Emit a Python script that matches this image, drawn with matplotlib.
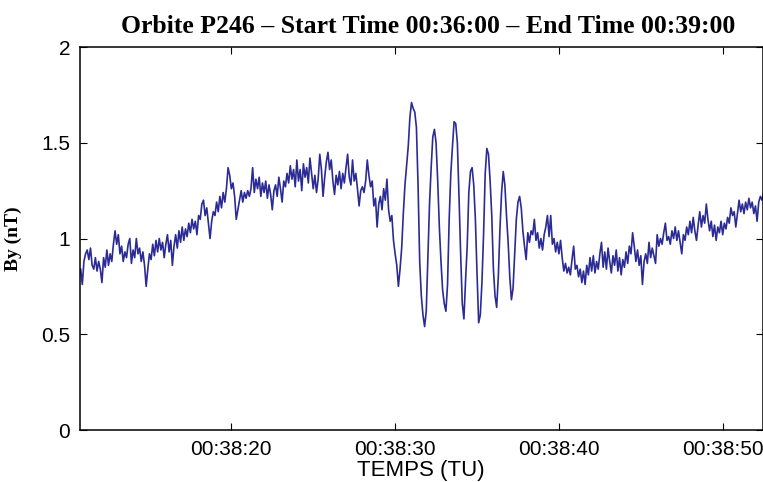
import numpy as np
import matplotlib
matplotlib.use("Agg")
import matplotlib.pyplot as plt
from matplotlib.ticker import FuncFormatter, FixedLocator

# By (nT), sampled every 0.1 s starting at 00:38:10.8
t_start = 10.8   # seconds after 00:38:00
dt = 0.1

by = [
    # 10.8 - 11.9
    0.84, 0.76, 0.88, 0.92, 0.94, 0.89, 0.95, 0.86, 0.84, 0.90, 0.83, 0.88,
    # 12.0 - 12.9
    0.84, 0.77, 0.90, 0.85, 0.94, 0.86, 0.92, 0.88, 0.97, 1.04,
    # 13.0 - 13.9
    0.97, 1.02, 0.92, 0.96, 0.88, 0.93, 0.90, 0.97, 1.00, 0.87,
    # 14.0 - 14.9
    0.94, 0.90, 1.00, 0.92, 0.95, 0.88, 0.93, 0.86, 0.75, 0.84,
    # 15.0 - 15.9
    0.92, 0.89, 0.97, 0.91, 0.99, 0.93, 1.00, 0.94, 0.98, 0.90,
    # 16.0 - 16.9
    0.97, 1.02, 0.93, 0.99, 0.86, 0.96, 1.02, 0.95, 1.04, 0.98,
    # 17.0 - 17.9
    1.06, 0.99, 1.05, 1.01, 1.08, 1.03, 1.10, 1.05, 1.09, 1.02,
    # 18.0 - 18.9
    1.12, 1.10, 1.18, 1.20, 1.12, 1.16, 1.08, 1.00, 1.09, 1.14,
    # 19.0 - 19.9
    1.12, 1.19, 1.14, 1.22, 1.16, 1.24, 1.19, 1.26, 1.37, 1.33,
    # 20.0 - 20.9
    1.26, 1.29, 1.22, 1.10, 1.15, 1.20, 1.25, 1.19, 1.24, 1.21,
    # 21.0 - 21.9
    1.25, 1.22, 1.26, 1.37, 1.24, 1.31, 1.26, 1.32, 1.22, 1.29,
    # 22.0 - 22.9
    1.24, 1.30, 1.21, 1.28, 1.23, 1.15, 1.25, 1.28, 1.22, 1.32,
    # 23.0 - 23.9
    1.26, 1.19, 1.30, 1.27, 1.34, 1.29, 1.38, 1.31, 1.36, 1.27,
    # 24.0 - 24.9
    1.41, 1.30, 1.36, 1.25, 1.39, 1.32, 1.37, 1.29, 1.42, 1.34,
    # 25.0 - 25.9
    1.26, 1.33, 1.24, 1.31, 1.44, 1.36, 1.22, 1.32, 1.40, 1.45,
    # 26.0 - 26.9
    1.36, 1.41, 1.30, 1.23, 1.33, 1.28, 1.35, 1.26, 1.34, 1.29,
    # 27.0 - 27.9
    1.37, 1.44, 1.32, 1.28, 1.41, 1.30, 1.34, 1.26, 1.17, 1.25,
    # 28.0 - 28.9
    1.27, 1.24, 1.30, 1.41, 1.33, 1.27, 1.30, 1.17, 1.21, 1.06,
    # 29.0 - 29.9
    1.18, 1.22, 1.15, 1.26, 1.20, 1.31, 1.15, 1.09, 1.12, 0.99,
    # 30.0 - 30.9
    0.92, 0.86, 0.75, 0.84, 0.95, 1.13, 1.28, 1.38, 1.48, 1.63,
    # 31.0 - 31.9
    1.71, 1.68, 1.66, 1.58, 1.28, 0.88, 0.70, 0.60, 0.54, 0.62,
    # 32.0 - 32.9
    0.90, 1.18, 1.37, 1.53, 1.57, 1.50, 1.30, 1.06, 0.88, 0.73,
    # 33.0 - 33.9
    0.66, 0.62, 0.76, 1.10, 1.34, 1.48, 1.61, 1.60, 1.50, 1.22,
    # 34.0 - 34.9
    0.92, 0.66, 0.58, 0.78, 0.96, 1.24, 1.35, 1.37, 1.28, 1.10,
    # 35.0 - 35.9
    0.82, 0.56, 0.60, 0.77, 1.02, 1.34, 1.47, 1.44, 1.30, 1.12,
    # 36.0 - 36.9
    0.84, 0.70, 0.64, 0.80, 1.05, 1.24, 1.35, 1.28, 1.12, 0.98,
    # 37.0 - 37.9
    0.80, 0.68, 0.74, 0.92, 1.10, 1.19, 1.22, 1.16, 1.04, 0.96,
    # 38.0 - 38.9
    0.89, 1.03, 0.98, 1.04, 1.02, 1.10, 0.99, 1.03, 0.95, 1.00,
    # 39.0 - 39.9
    0.94, 1.02, 1.06, 1.12, 1.01, 1.12, 0.97, 1.00, 0.93, 0.98,
    # 40.0 - 40.9
    0.92, 0.99, 0.90, 0.83, 0.87, 0.82, 0.85, 0.81, 0.89, 0.96,
    # 41.0 - 41.9
    0.84, 0.86, 0.80, 0.84, 0.77, 0.83, 0.76, 0.86, 0.81, 0.90,
    # 42.0 - 42.9
    0.83, 0.91, 0.82, 0.88, 0.84, 0.92, 0.98, 0.85, 0.93, 0.84,
    # 43.0 - 43.9
    0.95, 0.88, 0.82, 0.91, 0.86, 0.94, 0.83, 0.90, 0.81, 0.89,
    # 44.0 - 44.9
    0.85, 0.93, 0.87, 0.96, 0.92, 1.03, 0.96, 0.88, 0.94, 0.86,
    # 45.0 - 45.9
    0.91, 0.76, 0.88, 0.92, 0.87, 0.98, 0.90, 0.95, 0.91, 0.87,
    # 46.0 - 46.9
    1.02, 0.96, 1.00, 0.97, 1.03, 1.08, 0.99, 1.01, 0.97, 1.04,
    # 47.0 - 47.9
    1.00, 1.06, 0.99, 1.04, 0.98, 0.92, 1.02, 0.99, 1.06, 1.02,
    # 48.0 - 48.9
    1.09, 1.03, 1.11, 1.04, 0.99, 1.07, 1.14, 1.06, 1.12, 1.08,
    # 49.0 - 49.9
    1.18, 1.10, 1.04, 1.09, 1.01, 1.07, 0.99, 1.06, 1.03, 1.09,
    # 50.0 - 50.9
    1.02, 1.08, 1.05, 1.11, 1.08, 1.16, 1.12, 1.14, 1.06, 1.13,
    # 51.0 - 51.9
    1.20, 1.14, 1.18, 1.13, 1.19, 1.15, 1.21, 1.16, 1.19, 1.13,
    # 52.0 - 52.5
    1.17, 1.09, 1.19, 1.22, 1.20, 1.24,
]

x_ticks = [20, 30, 40, 50]
y_ticks = [0, 0.5, 1, 1.5, 2]
y_ticklabels = ["0", "0.5", "1", "1.5", "2"]

t = t_start + dt * np.arange(len(by))

def hms(sec, pos=None):
    return "00:38:%02d" % int(round(sec))

sans = ["Liberation Sans", "DejaVu Sans"]
serif = ["Liberation Serif", "DejaVu Serif"]

fig = plt.figure(figsize=(7.63, 4.82), dpi=100)
ax = fig.add_axes([80 / 763, 52 / 482, 682.5 / 763, 383 / 482])

ax.plot(t, by, color="#2b2b95", linewidth=1.2)

ax.set_xlim(10.76, 52.43)
ax.set_ylim(0, 2)
ax.xaxis.set_major_locator(FixedLocator(x_ticks))
ax.xaxis.set_major_formatter(FuncFormatter(hms))
ax.set_yticks(y_ticks)
ax.set_yticklabels(y_ticklabels)

ax.tick_params(direction="in", length=5, width=0.8, top=True, right=True,
               labelsize=15, pad=7)
for lab in ax.get_xticklabels() + ax.get_yticklabels():
    lab.set_family(sans)

for s in ax.spines.values():
    s.set_linewidth(1.1)

ax.set_xlabel("TEMPS (TU)", family=sans, fontsize=16, labelpad=1)
ax.set_ylabel("By (nT)", family=serif, fontsize=14, fontweight="bold", labelpad=14)
ax.set_title("Orbite P246 \u2013 Start Time 00:36:00 \u2013 End Time 00:39:00",
             family=serif, fontsize=18.5, fontweight="bold", x=0.51, pad=10)

fig.savefig("out.png", dpi=100)
